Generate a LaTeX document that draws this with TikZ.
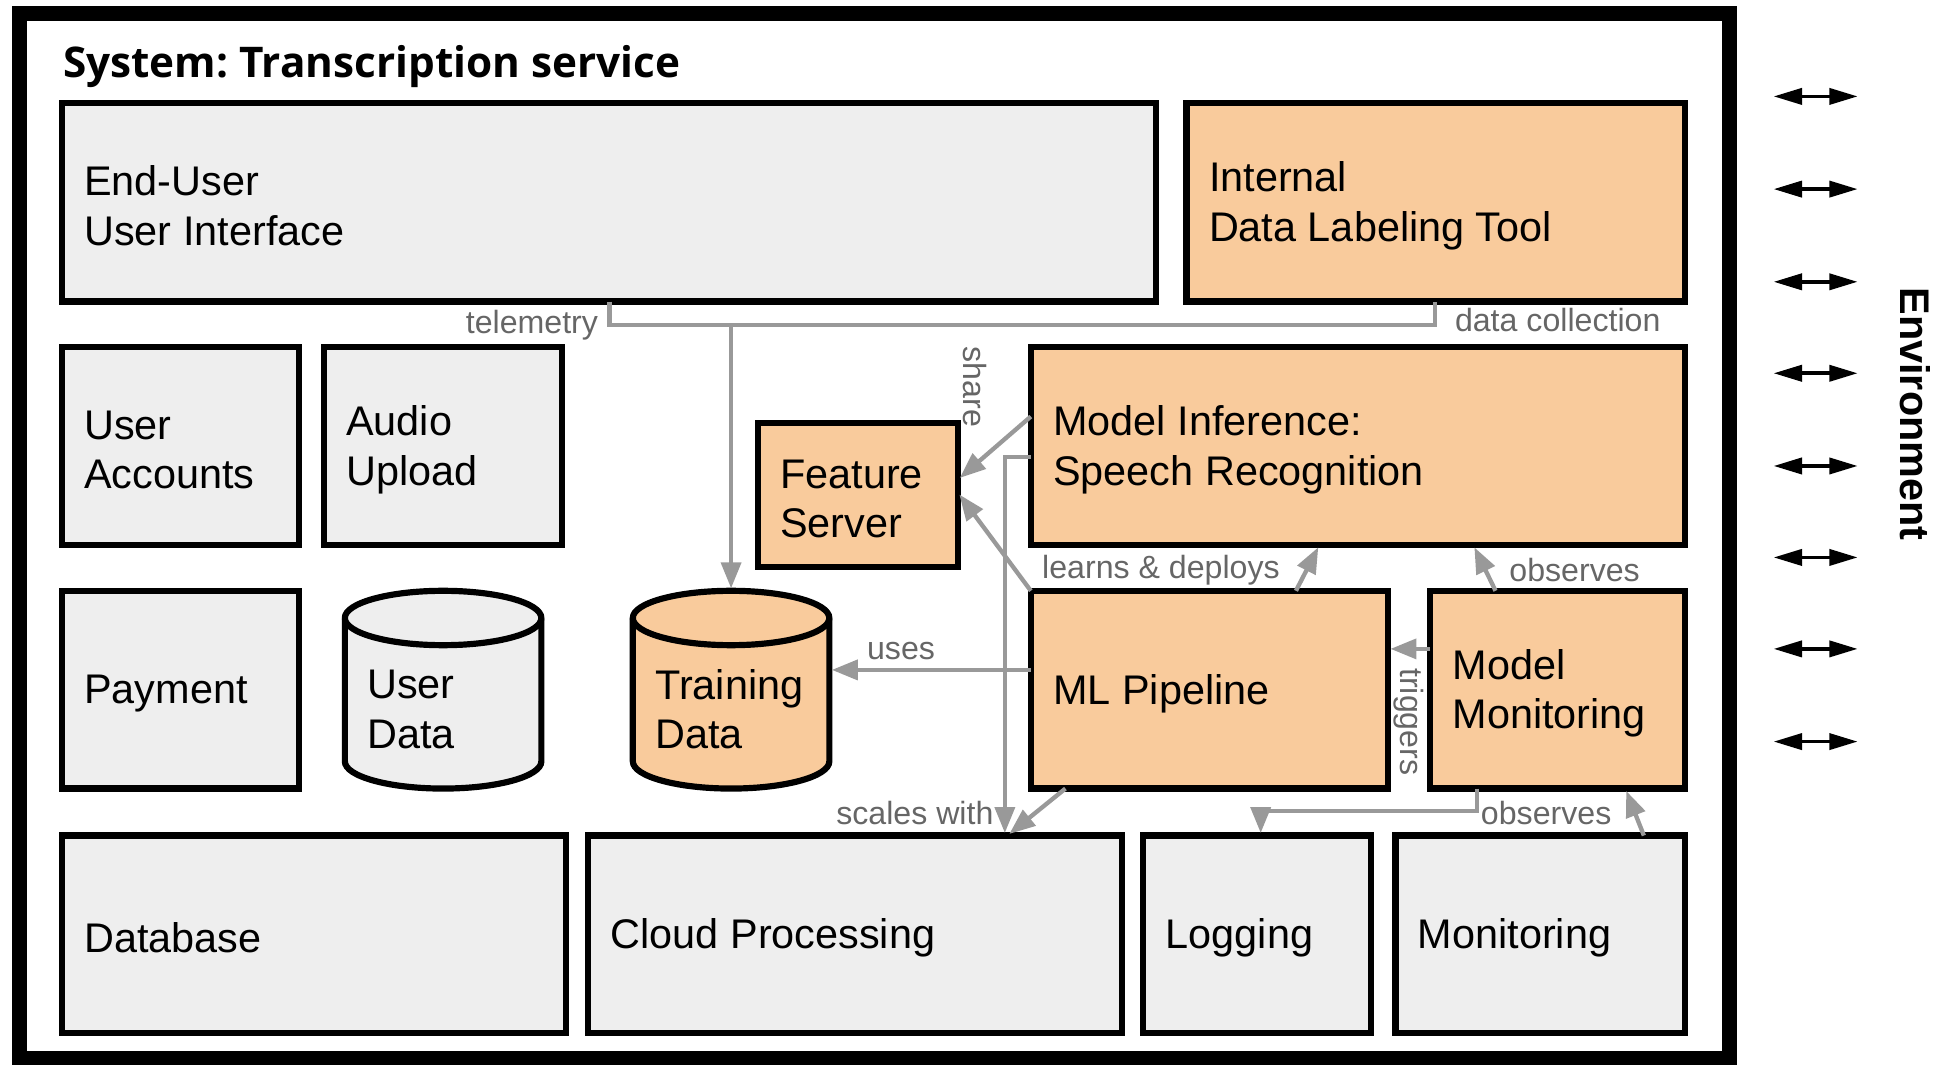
\documentclass[tikz,border=0pt]{standalone}
\usepackage{fontspec}
\setmainfont{Liberation Sans}
\newfontfamily\titlefont{Open Sans}
\usetikzlibrary{arrows.meta}
\definecolor{boxgray}{HTML}{EEEEEE}
\definecolor{boxorange}{HTML}{F9CB9C}
\definecolor{linegray}{HTML}{999999}
\definecolor{labelgray}{HTML}{666666}
\newcommand\boxfont{\fontsize{33.5}{40}\selectfont}
\newcommand\lblfont{\fontsize{26}{31}\selectfont}
\frenchspacing
\tikzset{
  box/.style={draw, line width=5pt, outer sep=0pt, anchor=north west, inner sep=0pt},
  gbox/.style={box, fill=boxgray},
  obox/.style={box, fill=boxorange},
  btext/.style={anchor=west, align=left, inner sep=0pt, font=\boxfont},
  conn/.style={draw=linegray, line width=3.5pt, shorten >=2pt, -{Triangle[length=21pt,width=16pt]}},
  plainconn/.style={draw=linegray, line width=3.5pt},
  lbl/.style={text=labelgray, font=\lblfont, inner sep=0pt},
  envarrow/.style={draw=black, line width=3pt, {Triangle[length=23pt,width=13pt]}-{Triangle[length=23pt,width=13pt]}},
}
\begin{document}
\begin{tikzpicture}[x=1pt,y=-1pt]
\useasboundingbox (0,0) rectangle (1568,863);
% system frame
\node[draw, line width=12pt, outer sep=0pt, minimum width=1383pt, minimum height=845pt, anchor=north west, inner sep=0pt] (sys) at (16,11) {};
\node[anchor=base west, inner sep=0pt, font={\titlefont\bfseries\fontsize{34.2}{40}\selectfont}] (title) at (51,63) {System: Transcription service};

% boxes
\node[gbox, minimum width=885pt, minimum height=161pt] (ui) at (50,83) {};
\node[obox, minimum width=403pt, minimum height=161pt] (label) at (960,83) {};
\node[gbox, minimum width=192pt, minimum height=160pt] (acc) at (50,281) {};
\node[gbox, minimum width=193pt, minimum height=160pt] (upload) at (262,281) {};
\node[obox, minimum width=162pt, minimum height=117pt] (feat) at (613,342) {};
\node[obox, minimum width=529pt, minimum height=160pt] (infer) at (834,281) {};
\node[gbox, minimum width=192pt, minimum height=160pt] (pay) at (50,478) {};
\node[obox, minimum width=289pt, minimum height=160pt] (pipe) at (834,478) {};
\node[obox, minimum width=206pt, minimum height=160pt] (mmon) at (1157,478) {};
\node[gbox, minimum width=408pt, minimum height=160pt] (db) at (50,676) {};
\node[gbox, minimum width=432pt, minimum height=160pt] (cloud) at (476,676) {};
\node[gbox, minimum width=184pt, minimum height=160pt] (log) at (925,676) {};
\node[gbox, minimum width=234pt, minimum height=160pt] (mon) at (1129,676) {};

\node[btext] (uiT) at ([xshift=18pt,yshift=-3pt]ui.west) {End-User\\User Interface};
\node[btext] (labelT) at ([xshift=18pt,yshift=-3pt]label.west) {Internal\\Data Labeling Tool};
\node[btext] (accT) at ([xshift=18pt,yshift=-3pt]acc.west) {User\\Accounts};
\node[btext] (uploadT) at ([xshift=18pt,yshift=-3pt]upload.west) {Audio\\Upload};
\node[btext] (featT) at ([xshift=18pt,yshift=-3pt]feat.west) {Feature\\Server};
\node[btext] (inferT) at ([xshift=18pt,yshift=-3pt]infer.west) {Model Inference:\\Speech Recognition};
\node[btext] (payT) at ([xshift=18pt,yshift=-3pt]pay.west) {Payment};
\node[btext] (pipeT) at ([xshift=18pt,yshift=-3pt]pipe.west) {ML Pipeline};
\node[btext] (mmonT) at ([xshift=18pt,yshift=-3pt]mmon.west) {Model\\Monitoring};
\node[btext] (dbT) at ([xshift=18pt,yshift=-3pt]db.west) {Database};
\node[btext] (cloudT) at ([xshift=18pt,yshift=-3pt]cloud.west) {Cloud Processing};
\node[btext] (logT) at ([xshift=18pt,yshift=-3pt]log.west) {Logging};
\node[btext] (monT) at ([xshift=18pt,yshift=-3pt]mon.west) {Monitoring};

% cylinders
\node[inner sep=0pt, outer sep=0pt, minimum width=159pt, minimum height=160pt, anchor=north west] (udata) at (279,478) {};
\filldraw[fill=boxgray, line width=5pt] (279,500) -- (279,616) arc[start angle=180,end angle=360,x radius=79.5pt,y radius=22pt] -- (438,500) arc[start angle=0,end angle=180,x radius=79.5pt,y radius=22pt] -- cycle;
\draw[line width=5pt] (279,500) arc[start angle=180,end angle=360,x radius=79.5pt,y radius=22pt];
\node[btext] (udatat) at (297,574) {User\\Data};

\node[inner sep=0pt, outer sep=0pt, minimum width=159pt, minimum height=160pt, anchor=north west] (train) at (512,478) {};
\filldraw[fill=boxorange, line width=5pt] (512,500) -- (512,616) arc[start angle=180,end angle=360,x radius=79.5pt,y radius=22pt] -- (671,500) arc[start angle=0,end angle=180,x radius=79.5pt,y radius=22pt] -- cycle;
\draw[line width=5pt] (512,500) arc[start angle=180,end angle=360,x radius=79.5pt,y radius=22pt];
\node[btext] (traint) at (530,574) {Training\\Data};

% connectors
\coordinate (telA) at (493,263);
\coordinate (dcA) at (1161,263);
\draw[plainconn] (ui.south -| telA) -- (telA) -- (dcA) -- (label.south -| dcA);
\draw[conn] (train.north |- telA) -- (train.north);
\node[lbl, anchor=east] (ltel) at (484,263) {telemetry};
\node[lbl, anchor=west] (ldc) at (1177,259) {data collection};

\draw[conn] ([yshift=-56pt]infer.north west) -- ([yshift=12.5pt]feat.east);
\draw[conn] (pipe.north west) -- ([yshift=2pt]feat.east);
\node[lbl, rotate=-90] (lshare) at (789,313) {share};

\draw[conn] ([xshift=70pt]pipe.north) -- ([xshift=-31pt]infer.south);
\node[lbl, anchor=west] (lld) at (843,461) {learns \& deploys};

\draw[conn] ([xshift=-50pt]mmon.north) -- ([xshift=93.5pt]infer.south);
\node[lbl, anchor=west] (lobs1) at (1221,461) {observes};

\draw[conn] ([yshift=16pt]pipe.west) -- ([yshift=16pt]train.east);
\node[lbl] (luses) at (729,527) {uses};

\coordinate (sc) at (813,370);
\draw[conn] ([yshift=-9pt]infer.west) -- (sc) -- (cloud.north -| sc);
\node[lbl, anchor=east] (lsc) at (804,658) {scales with};
\draw[conn] ([xshift=28pt]pipe.south west) -- ([xshift=339pt]cloud.north west);

\draw[conn] ([yshift=33pt]mmon.west) -- ([yshift=33pt]pipe.east);
\node[lbl, rotate=-90] (ltrig) at (1140,584) {triggers};

\coordinate (lg1) at (1195,656);
\coordinate (lg2) at (1020,656);
\draw[conn] (mmon.south -| lg1) -- (lg1) -- (lg2) -- (log.north -| lg2);
\node[lbl, anchor=west] (lobs2) at (1198,658) {observes};

\draw[conn] ([xshift=84pt]mon.north) -- ([xshift=55pt]mmon.south);

% environment
\foreach \i/\yy in {1/78,2/153,3/228,4/302,5/377,6/451,7/525,8/600}{
  \coordinate (eL\i) at (1435,\yy);
  \coordinate (eR\i) at (1503,\yy);
  \draw[envarrow] (eL\i) -- (eR\i);
}
\node[rotate=-90, inner sep=0pt, font={\bfseries\fontsize{33.5}{40}\selectfont}] (env) at (1550,335) {Environment};
\end{tikzpicture}
\end{document}
